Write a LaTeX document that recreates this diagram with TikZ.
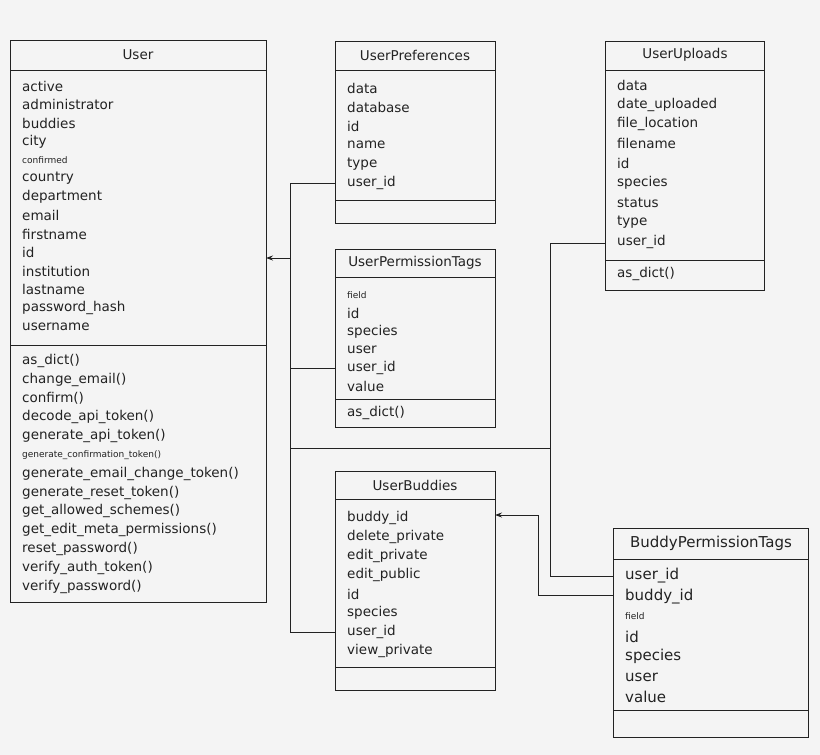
\documentclass[tikz,border=0pt]{standalone}
\usepackage{fontspec}
\setmainfont{DejaVu Sans}
\usepackage{tikz}
\usetikzlibrary{arrows.meta}

\definecolor{paper}{HTML}{F4F4F4}
\definecolor{ink}{HTML}{222222}

\tikzset{
  attr/.style={anchor=west, inner sep=0pt, text=ink, font=\fontsize{13.5}{16}\selectfont},
  small attr/.style={attr, font=\fontsize{11}{13}\selectfont},
  title/.style={inner sep=0pt, text=ink, font=\fontsize{13.5}{16}\selectfont},
  box/.style={draw=ink, line width=1pt},
  link/.style={draw=ink, line width=1pt},
}

\begin{document}
\begin{tikzpicture}[x=1pt, y=-1pt]
\fill[paper] (0,0) rectangle (820,755);
\useasboundingbox (0,0) rectangle (820,755);

% User
\draw[box] (10,40) rectangle (266,602);
\draw[box] (10,70) -- (266,70) (10,345) -- (266,345);
\node[title] (user) at (138,55) {User};
\foreach[count=\k] \t in {active,administrator,buddies,city,
    {\small confirmed},country,department,email,firstname,id,institution,
    lastname,password\_hash,username}
  \node[attr] (ua\k) at (22,{86+(\k-1)*18.5}) {\t};
\foreach[count=\k] \t in {as\_dict(),change\_email(),confirm(),decode\_api\_token(),
    generate\_api\_token(),{\small generate\_confirmation\_token()},
    generate\_email\_change\_token(),generate\_reset\_token(),get\_allowed\_schemes(),
    get\_edit\_meta\_permissions(),reset\_password(),verify\_auth\_token(),
    verify\_password()}
  \node[attr] (um\k) at (22,{361+(\k-1)*18.8}) {\t};

% UserPreferences
\draw[box] (335,41) rectangle (495,223);
\draw[box] (335,70) -- (495,70) (335,200) -- (495,200);
\node[title] (prefs) at (415,55) {UserPreferences};
\foreach[count=\k] \t in {data,database,id,name,type,user\_id}
  \node[attr] (pa\k) at (347,{88+(\k-1)*19}) {\t};

% UserPermissionTags
\draw[box] (335,249) rectangle (495,427);
\draw[box] (335,277) -- (495,277) (335,399) -- (495,399);
\node[title] (ptags) at (415,263) {UserPermissionTags};
\foreach[count=\k] \t in {{\small field},id,species,user,user\_id,value}
  \node[attr] (ta\k) at (347,{295+(\k-1)*18.3}) {\t};
\node[attr] (tm1) at (347,413) {as\_dict()};

% UserBuddies
\draw[box] (335,471) rectangle (495,690);
\draw[box] (335,499) -- (495,499) (335,667) -- (495,667);
\node[title] (buddies) at (415,485) {UserBuddies};
\foreach[count=\k] \t in {buddy\_id,delete\_private,edit\_private,edit\_public,
    id,species,user\_id,view\_private}
  \node[attr] (ba\k) at (347,{518+(\k-1)*19}) {\t};

% UserUploads
\draw[box] (605,41) rectangle (764,290);
\draw[box] (605,70) -- (764,70) (605,260) -- (764,260);
\node[title] (uploads) at (685,55) {UserUploads};
\foreach[count=\k] \t in {data,date\_uploaded,file\_location,filename,id,
    species,status,type,user\_id}
  \node[attr] (la\k) at (617,{85+(\k-1)*19.6}) {\t};
\node[attr] (lm1) at (617,274) {as\_dict()};

% BuddyPermissionTags
\draw[box] (613,528) rectangle (808,737);
\draw[box] (613,559) -- (808,559) (613,710) -- (808,710);
\node[title, font=\fontsize{15}{18}\selectfont] (bptags) at (711,543) {BuddyPermissionTags};
\foreach[count=\k] \t in {user\_id,buddy\_id,{\small field},id,species,user,value}
  \node[attr, font=\fontsize{15}{18}\selectfont] (qa\k) at (625,{576+(\k-1)*20.2}) {\t};

% connectors
\coordinate (busA) at (290,183);
\coordinate (busB) at (290,632);
\coordinate (hub) at (550,448);
\draw[link] (busA) -- (busB);
\draw[link, -{Stealth[length=7pt,width=5pt]}] (290,258) -- (266,258);
\draw[link] (335,183) -- (busA);
\draw[link] (335,368) -- (290,368);
\draw[link] (335,632) -- (busB);
\draw[link] (290,448) -- (hub);
\draw[link] (605,243) -| (550,576) -- (613,576);
\draw[link, -{Stealth[length=7pt,width=5pt]}] (613,595) -| (538,515) -- (495,515);
\end{tikzpicture}
\end{document}
